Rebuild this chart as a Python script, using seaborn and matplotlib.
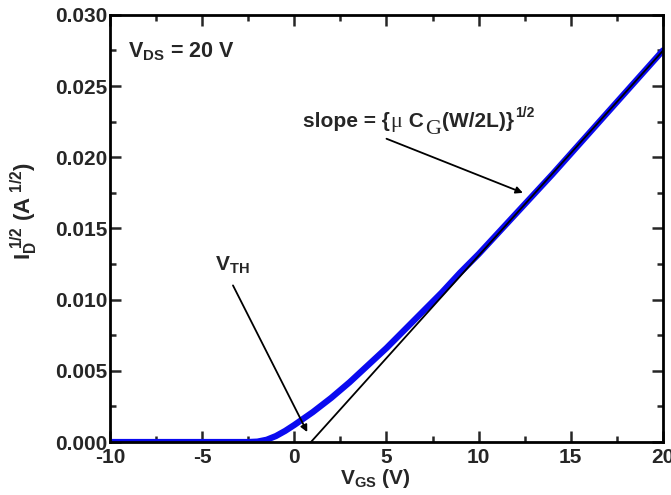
import matplotlib
matplotlib.use("Agg")
import matplotlib.pyplot as plt
from matplotlib.ticker import AutoMinorLocator
import seaborn as sns

# Data
vgs = [-10, -5, -2.5, -2.0, -1.5, -1.0, -0.5, 0, 1, 2, 3, 4, 5, 6, 7, 8, 9, 10, 11, 12, 14, 16, 18, 20]
sqrt_id = [0, 0, 0, 0.00003, 0.00016, 0.00042, 0.00078, 0.0012, 0.0021, 0.0031, 0.0042, 0.0054,
           0.0066, 0.0079, 0.0092, 0.0105, 0.0119, 0.0132, 0.0146, 0.0160, 0.0188, 0.0217,
           0.0246, 0.0275]
fit_x = [0.9, 20.5]
fit_y = [0.0, 0.0282]

xticks = [-10, -5, 0, 5, 10, 15, 20]
yticks = [0.000, 0.005, 0.010, 0.015, 0.020, 0.025, 0.030]

sns.set_style("ticks")
plt.rcParams['font.family'] = ['Liberation Sans', 'DejaVu Sans']
plt.rcParams['font.weight'] = 'bold'
plt.rcParams['mathtext.fontset'] = 'custom'
plt.rcParams['mathtext.rm'] = 'Liberation Sans:bold'
plt.rcParams['mathtext.it'] = 'Liberation Sans:bold'
plt.rcParams['mathtext.bf'] = 'Liberation Sans:bold'

fig = plt.figure(figsize=(6.71, 4.95), dpi=100)
ax = fig.add_axes([0.164, 0.107, 0.824, 0.863])

sns.lineplot(x=vgs, y=sqrt_id, ax=ax, color='#0a0af0', linewidth=4.5, zorder=2)
sns.lineplot(x=fit_x, y=fit_y, ax=ax, color='black', linewidth=1.3, zorder=3)

ax.set_xlim(-10, 20)
ax.set_ylim(0, 0.030)
ax.set_xticks(xticks)
ax.set_yticks(yticks)
ax.set_xticklabels([f"{t}" for t in xticks])
ax.set_yticklabels([f"{t:.3f}" for t in yticks])
ax.xaxis.set_minor_locator(AutoMinorLocator(2))
ax.yaxis.set_minor_locator(AutoMinorLocator(2))
ax.tick_params(which='both', direction='in', top=True, right=True, width=1.8,
               labelsize=15)
ax.tick_params(axis='y', pad=2)
ax.tick_params(axis='x', pad=4)
ax.tick_params(which='major', length=8)
ax.tick_params(which='minor', length=4)
for lab in ax.get_xticklabels() + ax.get_yticklabels():
    lab.set_fontweight('bold')
for s in ax.spines.values():
    s.set_linewidth(2)
    s.set_color('black')

ax.set_xlabel(r'$\mathrm{V_{GS}}$ (V)', fontsize=15, fontweight='bold')
ax.xaxis.set_label_coords(0.48, -0.058)
ax.set_ylabel(r'$\mathrm{I_D^{\ 1/2}}$ (A$^{\ 1/2}$)', fontsize=16, fontweight='bold')
ax.yaxis.set_label_coords(-0.126, 0.54)

ax.text(-9.0, 0.0274, r'$\mathrm{V_{DS}}$ = 20 V', fontsize=15.5, fontweight='bold',
        va='center', ha='left')
ax.text(-4.3, 0.0120, r'$\mathrm{V_{TH}}$', fontsize=15, fontweight='bold',
        va='baseline', ha='left')

# slope label built from pieces (serif mu and G as in the reference)
sans_b = dict(family=['Liberation Sans'], weight='bold')
serif = dict(family=['Liberation Serif'], weight='normal')
pieces = [
    ("slope = {", 15, sans_b, 0),
    ("\u03bc", 16, serif, 0),
    (" C", 15, sans_b, 0),
    ("G", 16, serif, -7),
    ("(W/2L)}", 15, sans_b, 0),
    ("1/2", 10, sans_b, 10),
]
renderer = fig.canvas.get_renderer()
x0, y0 = 0.45, 0.0221
dx = 0.0
for s, size, fp, dy in pieces:
    t = ax.annotate(s, xy=(x0, y0), xycoords='data', xytext=(dx, dy),
                    textcoords='offset pixels', fontsize=size, va='baseline', ha='left',
                    **fp)
    bb = t.get_window_extent(renderer=renderer)
    dx += bb.width + 1

ax.annotate('', xy=(0.7, 0.0007), xytext=(-3.33, 0.0110),
            arrowprops=dict(arrowstyle='-|>', color='black', lw=1.3,
                            mutation_scale=10, shrinkA=0, shrinkB=0))
ax.annotate('', xy=(12.4, 0.0175), xytext=(5.0, 0.0213),
            arrowprops=dict(arrowstyle='-|>', color='black', lw=1.3,
                            mutation_scale=10, shrinkA=0, shrinkB=0))

fig.savefig('out.png', dpi=100)
